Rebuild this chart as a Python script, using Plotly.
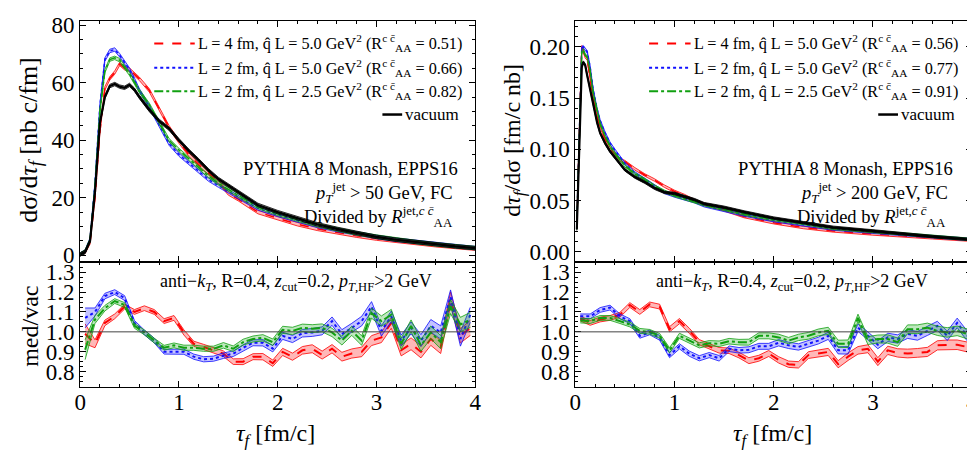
import plotly.graph_objects as go

# ---------------- data: left (pT jet > 50 GeV) ----------------
tau_top_left = [0, 0.05, 0.1, 0.15, 0.2, 0.25, 0.3, 0.35, 0.4, 0.45, 0.5, 0.55, 0.6, 0.7, 0.8, 0.9,
                1.0, 1.1, 1.2, 1.3, 1.4, 1.5, 1.6, 1.8, 2.0, 2.2, 2.4, 2.6, 2.8, 3.0, 3.2, 3.4, 3.6, 3.8, 4.0]
vac_left = [0.3, 1.2, 5, 22, 46, 55, 58.8, 59.5, 58.6, 58.2, 59.2, 57.5, 55, 50.5, 46.7, 44, 40, 36.3, 33,
            29.5, 26.5, 24.2, 22, 17.5, 15.0, 12.8, 10.8, 9.2, 7.8, 6.4, 5.4, 4.6, 3.8, 3.1, 2.5]
red_left = [0.3, 1.2, 4.5, 20, 43, 58, 61.5, 63.5, 66.5, 65, 64.5, 63, 61.3, 57.3, 51, 44.5, 39.5, 35,
            31.5, 28.5, 25.5, 21.5, 19.5, 15.0, 12.8, 10.8, 9.2, 7.9, 6.8, 5.8, 5.0, 4.2, 3.5, 2.9, 2.3]
blue_left = [0.3, 1.3, 5.5, 25, 52, 68, 71, 71.5, 69.5, 67, 64.5, 61, 57.3, 51.7, 45, 38.8, 35, 32, 29,
             26.3, 24.2, 22.2, 20.3, 16.3, 14.0, 12.1, 10.2, 8.8, 7.5, 6.4, 5.4, 4.6, 3.8, 3.2, 2.5]
green_left = [0.3, 1.3, 5.3, 24, 50, 64, 68, 68.6, 67.8, 65.5, 63, 60, 57, 52.3, 46, 40, 36.6, 33.5, 30.5,
              27.5, 25, 22.8, 20.8, 16.8, 14.4, 12.4, 10.5, 9.0, 7.6, 6.5, 5.5, 4.6, 3.8, 3.2, 2.5]
band_top_left = 0.6

tau_ratio = [0.05, 0.15, 0.25, 0.35, 0.45, 0.55, 0.65, 0.75, 0.85, 0.95,
             1.05, 1.15, 1.25, 1.35, 1.45, 1.55, 1.65, 1.75, 1.85, 1.95,
             2.05, 2.15, 2.25, 2.35, 2.45, 2.55, 2.65, 2.75, 2.85, 2.95,
             3.05, 3.15, 3.25, 3.35, 3.45, 3.55, 3.65, 3.75, 3.85, 3.95]
ratio_red_left = [0.99, 0.94, 1.045, 1.078, 1.127, 1.10, 1.119, 1.10, 1.054, 1.07,
                  0.997, 0.94, 0.924, 0.907, 0.89, 0.85, 0.85, 0.875, 0.875, 0.842,
                  0.899, 0.875, 0.907, 0.915, 0.883, 0.915, 0.875, 0.891, 0.899, 0.956,
                  0.972, 1.045, 0.907, 0.94, 0.899, 0.964, 0.924, 1.167, 0.98, 1.02]
ratio_blue_left = [1.07, 1.10, 1.18, 1.20, 1.17, 1.045, 0.997, 0.956, 0.90, 0.90,
                   0.90, 0.875, 0.862, 0.865, 0.88, 0.89, 0.92, 0.945, 0.945, 0.915,
                   0.98, 0.964, 0.993, 0.997, 1.005, 1.054, 0.989, 1.02, 1.054, 1.127,
                   1.005, 1.078, 0.956, 1.02, 0.956, 1.03, 0.997, 1.176, 0.964, 1.086]
ratio_green_left = [0.91, 1.062, 1.119, 1.155, 1.135, 1.03, 0.997, 0.956, 0.92, 0.932,
                    0.92, 0.92, 0.915, 0.915, 0.932, 0.915, 0.948, 0.964, 0.97, 0.948,
                    1.01, 1.005, 1.02, 1.016, 1.02, 0.997, 0.956, 1.005, 0.956, 1.094,
                    1.054, 1.086, 0.94, 1.03, 0.932, 0.997, 0.948, 1.127, 1.037, 1.06]
ratio_err_left = [0.05, 0.02, 0.014, 0.012, 0.012, 0.012, 0.012, 0.012, 0.012, 0.012,
                  0.013, 0.013, 0.013, 0.013, 0.014, 0.014, 0.015, 0.015, 0.016, 0.016,
                  0.018, 0.018, 0.019, 0.02, 0.02, 0.021, 0.022, 0.023, 0.024, 0.025,
                  0.026, 0.027, 0.028, 0.03, 0.03, 0.032, 0.033, 0.035, 0.036, 0.038]

# ---------------- data: right (pT jet > 200 GeV) ----------------
tau_top_right = [0.015, 0.04, 0.065, 0.08, 0.1, 0.12, 0.15, 0.18, 0.22, 0.25, 0.3, 0.35, 0.4, 0.45, 0.5,
                 0.6, 0.7, 0.8, 0.9, 1.0, 1.1, 1.2, 1.3, 1.5, 1.7, 2.0, 2.3, 2.6, 3.0, 3.3, 3.6, 4.0]
vac_right = [0.022, 0.10, 0.180, 0.185, 0.182, 0.172, 0.158, 0.143, 0.126, 0.116, 0.106, 0.098, 0.092,
             0.085, 0.080, 0.073, 0.068, 0.062, 0.058, 0.057, 0.054, 0.051, 0.047, 0.0435, 0.039,
             0.033, 0.0285, 0.024, 0.0205, 0.0175, 0.015, 0.012]
red_right = [0.025, 0.12, 0.200, 0.196, 0.190, 0.188, 0.170, 0.150, 0.132, 0.122, 0.110, 0.101, 0.095,
             0.090, 0.088, 0.081, 0.075, 0.070, 0.064, 0.059, 0.055, 0.050, 0.0465, 0.041, 0.0345,
             0.0285, 0.0238, 0.0205, 0.0175, 0.016, 0.0138, 0.0114]
blue_right = [0.024, 0.12, 0.199, 0.200, 0.198, 0.195, 0.180, 0.158, 0.139, 0.128, 0.116, 0.106, 0.099,
              0.092, 0.086, 0.077, 0.0705, 0.064, 0.058, 0.0545, 0.052, 0.049, 0.045, 0.0405, 0.036,
              0.0305, 0.0265, 0.0223, 0.0192, 0.017, 0.0145, 0.012]
green_right = [0.023, 0.115, 0.195, 0.197, 0.192, 0.190, 0.176, 0.155, 0.136, 0.125, 0.113, 0.103, 0.096,
               0.090, 0.084, 0.076, 0.0705, 0.064, 0.059, 0.055, 0.052, 0.0495, 0.046, 0.0415, 0.037,
               0.0316, 0.0277, 0.023, 0.0197, 0.0172, 0.0147, 0.0121]
band_top_right = 0.0012

ratio_red_right = [1.067, 1.045, 1.062, 1.07, 1.086, 1.135, 1.10, 1.138, 1.127, 1.013,
                   1.054, 1.005, 0.948, 0.927, 0.907, 0.905, 0.883, 0.855, 0.867, 0.891,
                   0.859, 0.837, 0.834, 0.883, 0.891, 0.899, 0.837, 0.875, 0.907, 0.915,
                   0.85, 0.907, 0.894, 0.891, 0.894, 0.899, 0.932, 0.935, 0.935, 0.924]
ratio_blue_right = [1.078, 1.078, 1.11, 1.122, 1.078, 1.054, 0.98, 0.997, 0.97, 0.883,
                    0.927, 0.89, 0.867, 0.883, 0.867, 0.915, 0.907, 0.91, 0.927, 0.927,
                    0.945, 0.932, 0.924, 0.94, 0.956, 0.98, 0.907, 0.907, 1.021, 0.98,
                    0.935, 0.972, 0.964, 0.989, 0.98, 1.005, 1.03, 0.98, 1.045, 0.98]
ratio_green_right = [1.057, 1.054, 1.07, 1.07, 1.054, 1.037, 1.005, 1.0, 0.98, 0.907,
                     0.98, 0.956, 0.932, 0.943, 0.94, 0.953, 0.948, 0.948, 0.98, 0.98,
                     0.972, 0.956, 0.972, 0.98, 0.997, 1.005, 0.94, 0.94, 1.07, 0.956,
                     0.964, 0.964, 0.948, 1.013, 1.013, 1.021, 1.005, 0.997, 1.005, 0.99]
ratio_err_right = [0.012, 0.012, 0.012, 0.012, 0.012, 0.012, 0.012, 0.012, 0.012, 0.013,
                   0.013, 0.013, 0.013, 0.013, 0.014, 0.014, 0.014, 0.015, 0.015, 0.015,
                   0.016, 0.016, 0.016, 0.017, 0.017, 0.018, 0.018, 0.019, 0.019, 0.02,
                   0.02, 0.021, 0.021, 0.022, 0.022, 0.023, 0.023, 0.024, 0.024, 0.025]

# ---------------- legend / text ----------------
legend_left = ["L = 4 fm, q\u0302 L = 5.0 GeV<sup>2</sup> (R<sup>c c\u0304</sup><sub>AA</sub> = 0.51)",
               "L = 2 fm, q\u0302 L = 5.0 GeV<sup>2</sup> (R<sup>c c\u0304</sup><sub>AA</sub> = 0.66)",
               "L = 2 fm, q\u0302 L = 2.5 GeV<sup>2</sup> (R<sup>c c\u0304</sup><sub>AA</sub> = 0.82)",
               "vacuum"]
legend_right = ["L = 4 fm, q\u0302 L = 5.0 GeV<sup>2</sup> (R<sup>c c\u0304</sup><sub>AA</sub> = 0.56)",
                "L = 2 fm, q\u0302 L = 5.0 GeV<sup>2</sup> (R<sup>c c\u0304</sup><sub>AA</sub> = 0.77)",
                "L = 2 fm, q\u0302 L = 2.5 GeV<sup>2</sup> (R<sup>c c\u0304</sup><sub>AA</sub> = 0.91)",
                "vacuum"]

FONT = "Liberation Serif"
W, H = 975, 450
RED, BLUE, GREEN, BLACK = "#ff0000", "#1010ff", "#11a011", "#000000"
FILLS = {RED: "rgba(255,0,0,0.28)", BLUE: "rgba(40,40,255,0.28)",
         GREEN: "rgba(20,170,20,0.28)", BLACK: "rgba(0,0,0,0.35)"}


def px(x):
    return x / W


def py(y):
    return 1 - y / H


fig = go.Figure()


def band(xs, ys, errs, color, dash, width, xa, ya, edge=0.8):
    up = [v + e for v, e in zip(ys, errs)]
    lo = [v - e for v, e in zip(ys, errs)]
    fig.add_trace(go.Scatter(x=xs, y=up, mode="lines", line=dict(color=color, width=edge),
                             xaxis=xa, yaxis=ya, showlegend=False, hoverinfo="skip"))
    fig.add_trace(go.Scatter(x=xs, y=lo, mode="lines", line=dict(color=color, width=edge),
                             fill="tonexty", fillcolor=FILLS[color],
                             xaxis=xa, yaxis=ya, showlegend=False, hoverinfo="skip"))
    fig.add_trace(go.Scatter(x=xs, y=ys, mode="lines", line=dict(color=color, width=width, dash=dash),
                             xaxis=xa, yaxis=ya, showlegend=False))


# top left
for ys, c, d in [(red_left, RED, "dash"), (blue_left, BLUE, "dot"), (green_left, GREEN, "dashdot")]:
    band(tau_top_left, ys, [band_top_left] * len(ys), c, d, 1.5, "x", "y")
band(tau_top_left, vac_left, [band_top_left] * len(vac_left), BLACK, "solid", 2.2, "x", "y")
# bottom left
for ys, c, d in [(ratio_red_left, RED, "dash"), (ratio_blue_left, BLUE, "dot"), (ratio_green_left, GREEN, "dashdot")]:
    band(tau_ratio, ys, ratio_err_left, c, d, 2, "x2", "y2")
# top right
for ys, c, d in [(red_right, RED, "dash"), (blue_right, BLUE, "dot"), (green_right, GREEN, "dashdot")]:
    band(tau_top_right, ys, [band_top_right] * len(ys), c, d, 1.5, "x3", "y3")
band(tau_top_right, vac_right, [band_top_right] * len(vac_right), BLACK, "solid", 2.2, "x3", "y3")
# bottom right
for ys, c, d in [(ratio_red_right, RED, "dash"), (ratio_blue_right, BLUE, "dot"), (ratio_green_right, GREEN, "dashdot")]:
    band(tau_ratio, ys, ratio_err_right, c, d, 2, "x4", "y4")

tickfont = dict(family=FONT, size=23, color="black")
base = dict(showline=True, linecolor="black", linewidth=1, mirror="ticks", ticks="inside",
            ticklen=6, tickcolor="black", showgrid=False, zeroline=False, tickfont=tickfont,
            ticklabeloverflow="allow")
minor_x = dict(ticks="inside", ticklen=3, dtick=0.2, tickcolor="black")

xl = [px(67), px(467)]
xr = [px(568.3), px(970)]
yt = [py(254), py(5)]
yb = [py(383), py(254)]

fig.update_layout(
    width=W, height=H, margin=dict(l=0, r=0, t=0, b=0),
    paper_bgcolor="white", plot_bgcolor="white", showlegend=False,
    xaxis=dict(base, domain=xl, range=[0, 4], dtick=1, showticklabels=False, anchor="y", minor=minor_x),
    yaxis=dict(base, domain=yt, range=[-2.36, 81.46], dtick=20, anchor="x",
               minor=dict(ticks="inside", ticklen=3, dtick=5, tickcolor="black")),
    xaxis2=dict(base, domain=xl, range=[0, 4], dtick=1, anchor="y2", minor=minor_x,
                ticklabelstandoff=-6),
    yaxis2=dict(base, domain=yb, range=[0.722, 1.351], dtick=0.1, tickformat=".1f", anchor="x2",
                minor=dict(ticks="inside", ticklen=3, dtick=0.025, tickcolor="black")),
    xaxis3=dict(base, domain=xr, range=[0, 4], dtick=1, showticklabels=False, anchor="y3", minor=minor_x),
    yaxis3=dict(base, domain=yt, range=[-0.0099, 0.2252], dtick=0.05, tickformat=".2f", anchor="x3",
                minor=dict(ticks="inside", ticklen=3, dtick=0.01, tickcolor="black")),
    xaxis4=dict(base, domain=xr, range=[0, 4], dtick=1, anchor="y4", minor=minor_x,
                ticklabelstandoff=-6),
    yaxis4=dict(base, domain=yb, range=[0.722, 1.351], dtick=0.1, tickformat=".1f", anchor="x4",
                minor=dict(ticks="inside", ticklen=3, dtick=0.025, tickcolor="black")),
)

# reference line at 1
for xa, ya in [("x2", "y2"), ("x4", "y4")]:
    fig.add_shape(type="line", xref=f"{xa} domain", yref=ya, x0=0, x1=1, y0=1, y1=1,
                  line=dict(color="#444444", width=1))

annots = []


def text(x, y, s, size, xanchor="center", angle=0):
    annots.append(dict(x=px(x), y=py(y), xref="paper", yref="paper", text=s, showarrow=False,
                       xanchor=xanchor, yanchor="middle", textangle=angle,
                       font=dict(family=FONT, size=size, color="black")))


# legends
leg_rows = [28.3, 53.3, 77.7, 101.7]
styles = [(RED, "dash"), (BLUE, "dot"), (GREEN, "dashdot")]
for (x0, x1, xt, vx0, vx1, labels) in [(142, 183, 184, 373, 393, legend_left),
                                        (643, 685, 686, 875, 895, legend_right)]:
    for i in range(3):
        fig.add_shape(type="line", xref="paper", yref="paper", x0=px(x0), x1=px(x1),
                      y0=py(leg_rows[i]), y1=py(leg_rows[i]),
                      line=dict(color=styles[i][0], width=2, dash=styles[i][1]))
        text(xt, leg_rows[i], labels[i], 16.2, "left")
    fig.add_shape(type="line", xref="paper", yref="paper", x0=px(vx0), x1=px(vx1),
                  y0=py(leg_rows[3]), y1=py(leg_rows[3]), line=dict(color="black", width=2.5))
    text(vx1 + 1, leg_rows[3], labels[3], 17, "left")

# info text
text(452, 158, "PYTHIA 8 Monash, EPPS16", 18.5, "right")
text(447, 182, "<i>p<sub>T</sub></i><sup>jet</sup> > 50 GeV, FC", 18.5, "right")
text(446, 207, "Divided by <i>R</i><sup>jet,<i>c c\u0304</i></sup><sub>AA</sub>", 18.5, "right")
text(953, 158, "PYTHIA 8 Monash, EPPS16", 18.5, "right")
text(948, 182, "<i>p<sub>T</sub></i><sup>jet</sup> > 200 GeV, FC", 18.5, "right")
text(946, 207, "Divided by <i>R</i><sup>jet,<i>c c\u0304</i></sup><sub>AA</sub>", 18.5, "right")

cuts = "anti\u2212<i>k<sub>T</sub></i>, R=0.4, <i>z</i><sub>cut</sub>=0.2, <i>p</i><sub><i>T</i>,HF</sub>>2 GeV"
text(286, 275, cuts, 18)
text(788, 275, cuts, 18)

# axis titles
text(265, 432, "<i>\u03c4<sub>f</sub></i> [fm/c]", 24)
text(768, 432, "<i>\u03c4<sub>f</sub></i> [fm/c]", 24)
text(16, 128, "d\u03c3/d<i>\u03c4<sub>f</sub></i> [nb c/fm]", 26, angle=-90)
text(506, 128, "d<i>\u03c4<sub>f</sub></i>/d\u03c3 [fm/c nb]", 24, angle=-90)
text(16, 320, "med/vac", 24, angle=-90)

fig.update_layout(annotations=annots)
fig.write_html("out.html")
